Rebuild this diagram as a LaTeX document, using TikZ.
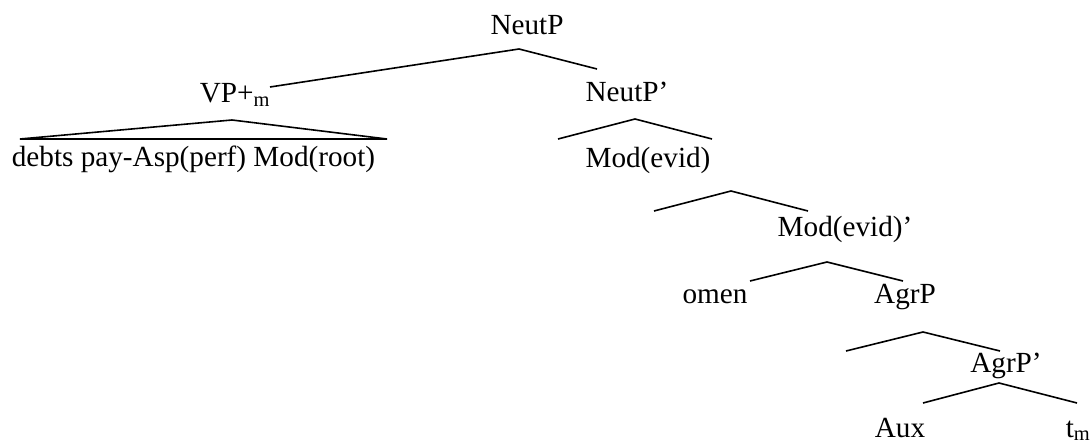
\documentclass[tikz,border=0pt]{standalone}
\usepackage{fontspec}
\setmainfont{Liberation Serif}
\begin{document}
\begin{tikzpicture}[x=1pt,y=-1pt,
  lbl/.style={inner sep=0pt, anchor=base, font=\fontsize{29.2}{34}\selectfont},
  branch/.style={line width=1.6pt, line join=miter, line cap=butt}]
\useasboundingbox (0,0) rectangle (1091,443);
% labels
\node[lbl] (neutp)   at (527,35)  {NeutP};
\node[lbl] (vp)      at (235,103) {VP+\textsubscript{m}};
\node[lbl] (debts)   at (193.5,167) {debts pay-Asp(perf) Mod(root)};
\node[lbl] (neutpp)  at (627,102) {NeutP’};
\node[lbl] (modevid) at (648,168) {Mod(evid)};
\node[lbl] (modevidp) at (845,237) {Mod(evid)’};
\node[lbl] (omen)    at (715,303) {omen};
\node[lbl] (agrp)    at (905,303) {AgrP};
\node[lbl] (agrpp)   at (1006,372) {AgrP’};
\node[lbl] (aux)     at (900,437) {Aux};
\node[lbl] (tm)      at (1078,437) {t\textsubscript{m}};
% branch points
\coordinate (a1) at (519,49);  \coordinate (a1l) at (270,87);  \coordinate (a1r) at (597,69);
\coordinate (a2) at (232,120); \coordinate (a2l) at (20,139);  \coordinate (a2r) at (387,139);
\coordinate (a3) at (635,119); \coordinate (a3l) at (558,139); \coordinate (a3r) at (712,139);
\coordinate (a4) at (731,191); \coordinate (a4l) at (654,211); \coordinate (a4r) at (808,211);
\coordinate (a5) at (827,262); \coordinate (a5l) at (750,281); \coordinate (a5r) at (903,281);
\coordinate (a6) at (923,332); \coordinate (a6l) at (846,351); \coordinate (a6r) at (1000,351);
\coordinate (a7) at (999,383); \coordinate (a7l) at (923,403); \coordinate (a7r) at (1077,403);
% branches
\draw[branch] (a1l) -- (a1) -- (a1r);
\draw[branch] (a2l) -- (a2) -- (a2r) -- cycle;
\draw[branch] (a3l) -- (a3) -- (a3r);
\draw[branch] (a4l) -- (a4) -- (a4r);
\draw[branch] (a5l) -- (a5) -- (a5r);
\draw[branch] (a6l) -- (a6) -- (a6r);
\draw[branch] (a7l) -- (a7) -- (a7r);
\end{tikzpicture}
\end{document}
